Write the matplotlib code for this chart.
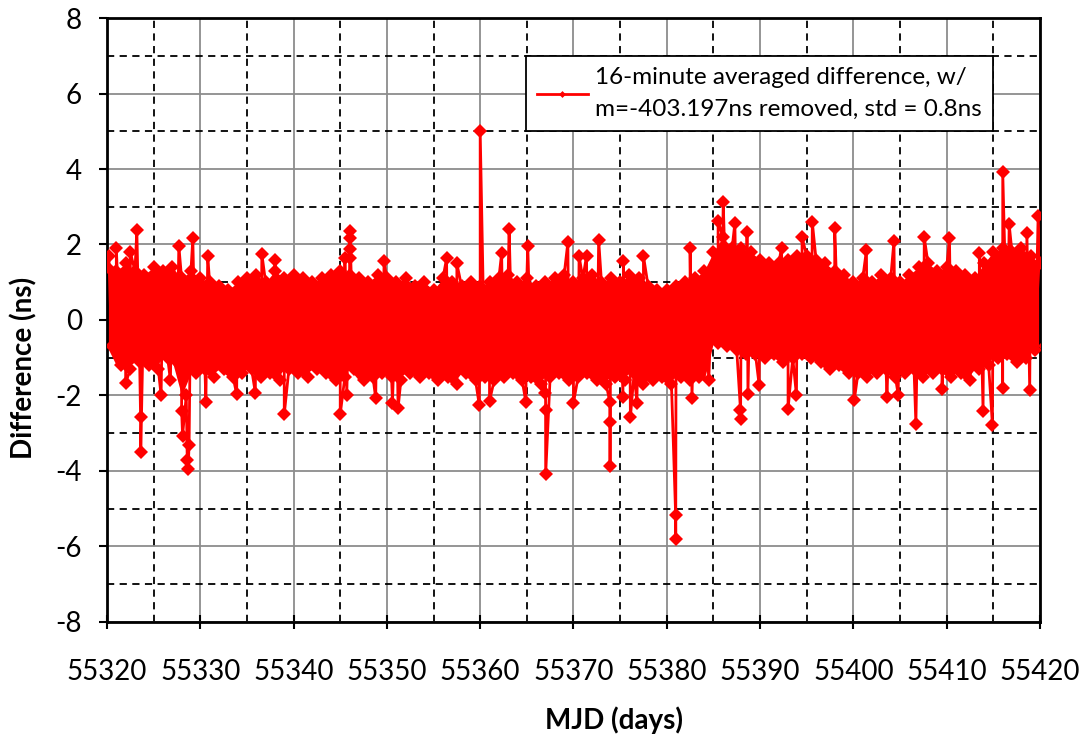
import numpy as np
import matplotlib
matplotlib.use('Agg')
import matplotlib.pyplot as plt
from matplotlib.ticker import MultipleLocator

plt.rcParams['font.family'] = ['Lato', 'DejaVu Sans']
plt.rcParams['axes.unicode_minus'] = False

# 每天读取的红色带上沿/下沿 (ns), MJD 55320 .. 55420
days = list(range(55320, 55421))
upper = [1.4, 1.3, 1.5, 1.3, 1.2, 1.4, 1.3, 1.4, 1.1, 1.3,
         1.1, 1.0, 0.9, 0.8, 1.0, 1.1, 1.2, 1.0, 1.3, 1.1,
         1.2, 1.1, 1.0, 1.1, 1.2, 1.3, 1.2, 1.1, 1.0, 1.2,
         1.1, 1.0, 1.1, 0.9, 1.0, 0.8, 1.1, 1.0, 0.9, 1.0,
         0.9, 1.0, 1.1, 1.2, 1.0, 1.1, 0.9, 1.0, 1.1, 1.2,
         1.0, 1.1, 1.2, 1.0, 1.1, 1.0, 1.2, 1.1, 0.9, 0.8,
         0.8, 0.9, 1.0, 1.1, 1.3, 1.8, 2.2, 1.9, 1.9, 1.8,
         1.6, 1.5, 1.5, 1.6, 1.7, 1.7, 1.6, 1.5, 1.3, 1.2,
         1.0, 1.1, 1.0, 1.2, 1.1, 1.0, 1.2, 1.4, 1.5, 1.3,
         1.4, 1.3, 1.2, 1.1, 1.5, 1.8, 1.9, 1.8, 1.9, 1.7,
         1.5]
lower = [-0.7, -1.2, -1.3, -1.1, -1.2, -1.3, -1.0, -1.1, -2.0, -1.4,
         -1.3, -1.5, -1.3, -1.5, -1.4, -1.3, -1.5, -1.4, -1.6, -1.3,
         -1.4, -1.5, -1.3, -1.4, -1.6, -1.5, -1.3, -1.6, -1.5, -1.4,
         -1.5, -1.6, -1.4, -1.5, -1.4, -1.6, -1.5, -1.7, -1.4, -1.6,
         -1.5, -1.6, -1.5, -1.4, -1.6, -1.5, -1.7, -1.5, -1.4, -1.6,
         -1.5, -1.4, -1.6, -1.7, -1.5, -1.6, -1.4, -1.7, -1.6, -1.5,
         -1.7, -1.5, -1.6, -1.5, -1.6, -0.6, -0.7, -0.8, -0.9, -0.9,
         -1.0, -0.9, -1.1, -1.0, -0.9, -1.0, -1.1, -1.3, -1.2, -1.4,
         -1.4, -1.5, -1.4, -1.3, -1.5, -1.4, -1.3, -1.5, -1.4, -1.3,
         -1.5, -1.4, -1.6, -1.3, -1.2, -1.0, -0.9, -1.1, -1.0, -0.8,
         -0.7]

# 单独的尖峰点 (MJD, ns)
spike_x = [55320.2, 55321.0, 55322.5, 55323.2, 55327.7, 55329.2, 55330.8, 55336.6,
           55322.0, 55323.6, 55323.62, 55325.8, 55326.8,
           55328.0, 55328.1, 55328.6, 55328.7, 55328.8,
           55330.6, 55333.9, 55335.9,
           55338.0, 55339.0, 55345.0, 55345.5, 55345.7,
           55346.0, 55346.01, 55346.02, 55346.03,
           55348.8, 55349.7, 55350.6, 55351.2,
           55356.4, 55357.5, 55359.9, 55360.0, 55361.0, 55362.3, 55363.1,
           55364.9, 55365.1, 55367.0, 55367.01, 55367.02, 55369.4, 55370.0, 55370.6,
           55371.4, 55372.7, 55373.9, 55373.91, 55373.92, 55375.3, 55375.35,
           55376.1, 55376.8, 55377.5, 55380.95, 55380.96, 55382.5, 55382.7,
           55385.5, 55386.05, 55387.3, 55387.9, 55387.91, 55388.6, 55388.7,
           55389.9, 55392.3, 55393.0, 55393.9, 55394.5, 55395.6, 55398.0,
           55400.1, 55401.4, 55403.6, 55404.35, 55404.8,
           55406.7, 55407.6, 55409.5, 55410.3, 55413.5, 55413.9, 55414.9,
           55416.0, 55416.01, 55416.7, 55418.6, 55418.9, 55419.8]
spike_y = [1.7, 1.92, 1.8, 2.38, 1.97, 2.16, 1.7, 1.75,
           -1.67, -2.56, -3.5, -2.0, -1.6,
           -2.4, -3.06, -3.7, -3.95, -3.3,
           -2.18, -1.96, -1.93,
           1.6, -2.5, -2.5, 1.64, -2.0,
           1.64, 1.88, 2.17, 2.37,
           -2.07, 1.55, -2.2, -2.34,
           1.63, 1.5, -2.25, 5.0, -2.15, 1.77, 2.41,
           -2.18, 1.96, -1.94, -2.38, -4.09, 2.06, -2.2, 1.7,
           1.7, 2.12, -2.18, -2.71, -3.86, -2.05, 1.57,
           -2.58, -2.2, 1.7, -5.16, -5.8, 1.9, -2.07,
           2.63, 3.13, 2.57, -2.38, -2.62, 2.32, -1.96,
           -1.72, 1.92, -2.36, -2.0, 2.19, 2.59, 2.44,
           -2.12, 1.85, -2.03, 2.1, -1.98,
           -2.75, 2.19, -1.83, 2.16, 1.77, -2.4, -2.77,
           -1.8, 3.91, 2.53, 2.3, -1.85, 2.75]

label = '16-minute averaged difference, w/\nm=-403.197ns removed, std = 0.8ns'

# 拼成一条线：上沿在整天, 下沿在半天, 尖峰插入
pts = [(d, u) for d, u in zip(days, upper)]
pts += [(d + 0.5, l) for d, l in zip(days, lower)]
pts += list(zip(spike_x, spike_y))
pts.sort(key=lambda p: p[0])
xs = [p[0] for p in pts]
ys = [p[1] for p in pts]

fig = plt.figure(figsize=(10.85, 7.38), dpi=100)
ax = fig.add_axes([0.0986, 0.1572, 0.8599, 0.8184])

ax.fill_between(days, lower, upper, color='red', linewidth=0, zorder=2)
ax.plot(xs, ys, color='red', linewidth=2.0, marker='D', markersize=7,
        markeredgewidth=0, label=label, zorder=3)

ax.set_xlim(55320, 55420)
ax.set_ylim(-8, 8)
ax.xaxis.set_major_locator(MultipleLocator(10))
ax.xaxis.set_minor_locator(MultipleLocator(5))
ax.yaxis.set_major_locator(MultipleLocator(2))
ax.yaxis.set_minor_locator(MultipleLocator(1))
ax.set_axisbelow(True)
ax.grid(which='major', color='#8c8c8c', linewidth=1.3, linestyle='-')
ax.grid(which='minor', color='black', linewidth=1.3, linestyle=(0, (4, 3)))

ax.tick_params(axis='y', which='major', direction='out', length=6, width=1.5,
               labelsize=20, pad=12)
ax.tick_params(axis='x', which='major', direction='inout', length=10, width=1.5,
               labelsize=20, pad=22)
ax.tick_params(which='minor', length=0)
for s in ax.spines.values():
    s.set_linewidth(2)
    s.set_color('black')

ax.set_xlabel('MJD (days)', fontsize=20, fontweight='bold')
ax.set_ylabel('Difference (ns)', fontsize=20, fontweight='bold')
ax.xaxis.set_label_coords(0.543, -0.139)
ax.yaxis.set_label_coords(-0.075, 0.42)

leg = ax.legend(loc='upper right', bbox_to_anchor=(0.9496, 0.937), borderaxespad=0,
                fontsize=17.5, frameon=True, fancybox=False, framealpha=1,
                edgecolor='black', handlelength=2.1, handletextpad=0.3,
                borderpad=0.45, markerscale=0.5)
leg.get_frame().set_linewidth(1.3)
leg.get_texts()[0].set_linespacing(1.65)

fig.savefig('out.png', dpi=100)
